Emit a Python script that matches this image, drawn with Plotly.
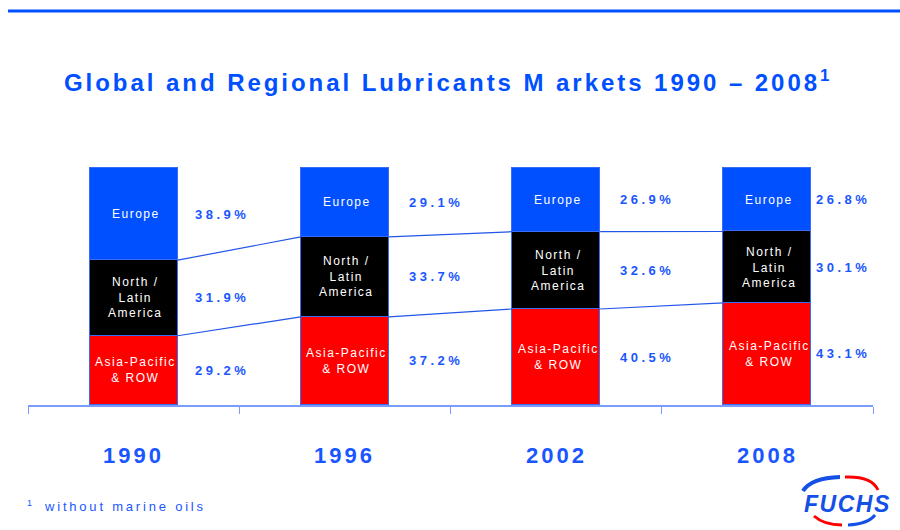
import plotly.graph_objects as go

# ---- data ----
years = ["1990", "1996", "2002", "2008"]
europe = [38.9, 29.1, 26.9, 26.8]
north_latin = [31.9, 33.7, 32.6, 30.1]
asia_row = [29.2, 37.2, 40.5, 43.1]
segment_names = ["Asia-Pacific<br>& ROW", "North /<br>Latin<br>America", "Europe"]

# ---- styling ----
BLUE = "#0050ff"
TXT_BLUE = "#1a56ff"
RED = "#ff0000"
BLACK = "#000000"
OUTLINE = "#3a6cf5"
AXIS = "#7a9cff"
FONT = "Liberation Sans, Arial, sans-serif"
BAR_W = 0.417
label_dx = [0.42, 0.43, 0.43, 0.36]

W, H = 900, 530
L, R, T, B = 28, 27, 167, 125
plot_w = W - L - R
plot_h = H - T - B


def px_x(px):
    return (px - L) / plot_w


def px_y(py):
    return (H - B - py) / plot_h


def sp(text, ls):
    return f'<span style="letter-spacing:{ls}px">{text}</span>'


xs = list(range(len(years)))
fig = go.Figure()
series = [(asia_row, RED), (north_latin, BLACK), (europe, BLUE)]
for vals, col in series:
    fig.add_trace(go.Bar(
        x=xs, y=vals, width=BAR_W, marker=dict(color=col, line=dict(color=OUTLINE, width=1)),
        hoverinfo="skip", showlegend=False))

# connecting lines between segment boundaries
b_low = asia_row
b_high = [a + n for a, n in zip(asia_row, north_latin)]
for bounds in (b_low, b_high):
    for i in range(len(years) - 1):
        fig.add_trace(go.Scatter(
            x=[xs[i] + BAR_W / 2, xs[i + 1] - BAR_W / 2], y=[bounds[i], bounds[i + 1]],
            mode="lines", line=dict(color="#2255e8", width=1.2), hoverinfo="skip",
            showlegend=False, cliponaxis=False))

annotations = []
for i in xs:
    seg_vals = [asia_row[i], north_latin[i], europe[i]]
    base = 0
    for k, v in enumerate(seg_vals):
        mid = base + v / 2
        annotations.append(dict(
            x=xs[i] + 0.01, y=mid, xref="x", yref="y", showarrow=False,
            text=sp(segment_names[k], 1.5), font=dict(family=FONT, size=12, color="white"),
            xanchor="center", yanchor="middle"))
        annotations.append(dict(
            x=xs[i] + label_dx[i], y=mid, xref="x", yref="y", showarrow=False,
            text="<b>" + sp(f"{v:.1f}%", 3.5) + "</b>",
            font=dict(family=FONT, size=13, color=TXT_BLUE),
            xanchor="center", yanchor="middle"))
        base += v
    annotations.append(dict(
        x=xs[i], y=px_y(455), xref="x", yref="paper", showarrow=False,
        text="<b>" + sp(years[i], 3) + "</b>", font=dict(family=FONT, size=22, color=TXT_BLUE),
        xanchor="center", yanchor="middle"))

# title
annotations.append(dict(
    x=px_x(446), y=px_y(81), xref="paper", yref="paper", showarrow=False,
    text="<b>" + sp("Global and Regional Lubricants M arkets 1990 – 2008", 2.95) + "<sup>1</sup></b>",
    font=dict(family=FONT, size=24, color=BLUE), xanchor="center", yanchor="middle"))

# footnote
annotations.append(dict(
    x=px_x(25), y=px_y(503), xref="paper", yref="paper", showarrow=False,
    text="1", font=dict(family=FONT, size=9, color=TXT_BLUE), xanchor="left", yanchor="middle"))
annotations.append(dict(
    x=px_x(42), y=px_y(506), xref="paper", yref="paper", showarrow=False,
    text=sp("without marine oils", 2.8), font=dict(family=FONT, size=13, color=TXT_BLUE),
    xanchor="left", yanchor="middle"))

# logo text
annotations.append(dict(
    x=px_x(847), y=px_y(504), xref="paper", yref="paper", showarrow=False,
    text="<b><i>" + sp("FUCHS", 1.5) + "</i></b>", font=dict(family=FONT, size=23, color="#1450e6"),
    xanchor="center", yanchor="middle"))

shapes = [
    dict(type="line", xref="paper", yref="paper", x0=px_x(8), x1=px_x(902),
         y0=px_y(11), y1=px_y(11), line=dict(color=BLUE, width=3)),
]


def arc(p0, c, p1, col, w):
    path = (f"M {px_x(p0[0])},{px_y(p0[1])} Q {px_x(c[0])},{px_y(c[1])} "
            f"{px_x(p1[0])},{px_y(p1[1])}")
    return dict(type="path", xref="paper", yref="paper", path=path,
                line=dict(color=col, width=w))


shapes += [
    arc((803, 491), (811, 478), (840, 477), "#1450e6", 4),
    arc((845, 477), (872, 476), (878, 490), RED, 3),
    arc((814, 516), (824, 525), (842, 525), RED, 3),
    arc((848, 525), (868, 524), (875, 515), "#1450e6", 3),
]

fig.update_layout(
    width=W, height=H, barmode="stack", bargap=0,
    margin=dict(l=L, r=R, t=T, b=B),
    plot_bgcolor="white", paper_bgcolor="white",
    xaxis=dict(range=[-0.5, 3.5], tickvals=[-0.5, 0.5, 1.5, 2.5, 3.5], ticks="outside",
               ticklen=7, tickcolor=AXIS, tickwidth=1.2, showticklabels=False,
               showline=True, linecolor=AXIS, linewidth=1.5, showgrid=False, zeroline=False,
               fixedrange=True),
    yaxis=dict(range=[0, 100.4], visible=False, showgrid=False, zeroline=False, fixedrange=True),
    annotations=annotations, shapes=shapes,
    font=dict(family=FONT),
)

fig.write_html("out.html", config={"displayModeBar": False},
               post_script="document.body.style.margin='0';document.body.style.overflow='hidden';")
